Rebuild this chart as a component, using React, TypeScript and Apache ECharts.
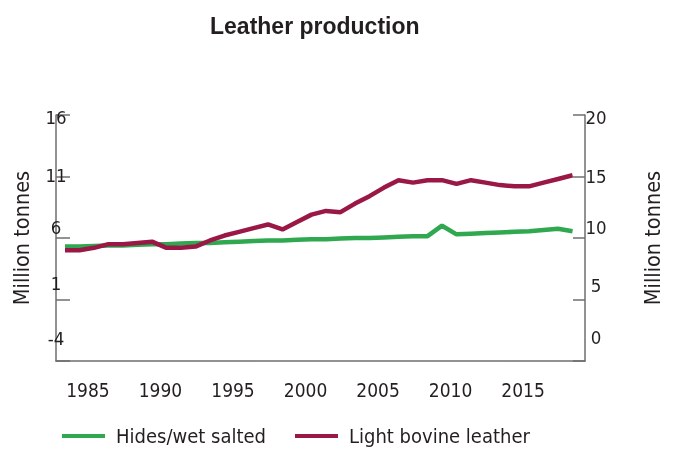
import React, { useEffect, useRef } from "react";
import * as echarts from "echarts";

const years = [
  1983, 1984, 1985, 1986, 1987, 1988, 1989, 1990, 1991, 1992, 1993, 1994,
  1995, 1996, 1997, 1998, 1999, 2000, 2001, 2002, 2003, 2004, 2005, 2006,
  2007, 2008, 2009, 2010, 2011, 2012, 2013, 2014, 2015, 2016, 2017, 2018,
];

// left axis (million tonnes)
const hides = [
  5.3, 5.3, 5.35, 5.4, 5.4, 5.45, 5.5, 5.5, 5.55, 5.6, 5.6, 5.65,
  5.7, 5.75, 5.8, 5.8, 5.85, 5.9, 5.9, 5.95, 6.0, 6.0, 6.05, 6.1,
  6.15, 6.15, 7.0, 6.3, 6.35, 6.4, 6.45, 6.5, 6.55, 6.65, 6.75, 6.55,
];

// right axis (million tonnes)
const leather = [
  9.0, 9.0, 9.2, 9.5, 9.5, 9.6, 9.7, 9.2, 9.2, 9.3, 9.8, 10.2,
  10.5, 10.8, 11.1, 10.7, 11.3, 11.9, 12.2, 12.1, 12.8, 13.4, 14.1, 14.7,
  14.5, 14.7, 14.7, 14.4, 14.7, 14.5, 14.3, 14.2, 14.2, 14.5, 14.8, 15.1,
];

const xTickLabels = [1985, 1990, 1995, 2000, 2005, 2010, 2015];
const leftTicks = [-4, 1, 6, 11, 16];
const rightTicks = [0, 5, 10, 15, 20];

const seriesNames = ["Hides/wet salted", "Light bovine leather"];
const title = "Leather production";
const axisName = "Million tonnes";

const FONT = "'DejaVu Sans Condensed', 'Liberation Sans', sans-serif";
const TEXT = "#231f20";
const AXIS = "#6e6e6e";
const GREEN = "#2fa84f";
const CRIMSON = "#9a1846";

export default function App() {
  const ref = useRef<HTMLDivElement>(null);

  useEffect(() => {
    const chart = echarts.init(ref.current!, null, { renderer: "svg" });

    const leftShift = [46, 32, 22, 2, -4]; // bottom padding (positive) or top padding (negative)
    const rightShift = [48, 28, 22, 0, -4];
    const mkRich = (prefix: string, shifts: number[]) => {
      const r: Record<string, any> = {};
      shifts.forEach((s, i) => {
        r[prefix + i] = {
          fontFamily: FONT,
          fontSize: 18.5,
          color: TEXT,
          padding: s >= 0 ? [0, 0, s, 0] : [-s, 0, 0, 0],
        };
      });
      return r;
    };

    chart.setOption({
      animation: false,
      title: {
        text: title,
        left: 205,
        top: 9,
        textStyle: {
          fontFamily: "'Liberation Sans', sans-serif",
          fontWeight: "bold",
          fontSize: 23,
          color: TEXT,
        },
      },
      legend: {
        data: seriesNames,
        left: 62,
        top: 426,
        padding: 0,
        icon: "rect",
        itemWidth: 43,
        itemHeight: 4,
        itemGap: 29,
        itemStyle: { borderWidth: 0 },
        textStyle: {
          fontFamily: FONT,
          fontSize: 20,
          color: TEXT,
          padding: [0, 0, 0, 6],
        },
      },
      grid: { left: 56, right: 94, top: 115, bottom: 90 },
      xAxis: {
        type: "value",
        min: 1982.38,
        max: 2018.86,
        axisLine: { show: true, onZero: false, lineStyle: { color: AXIS, width: 1.5 } },
        axisTick: { show: false },
        splitLine: { show: false },
        axisLabel: {
          customValues: xTickLabels,
          margin: 19,
          fontFamily: FONT,
          fontSize: 19,
          color: TEXT,
          padding: [0, 12, 0, 0],
          formatter: (v: number) => String(v),
        },
      },
      yAxis: [
        {
          type: "value",
          position: "left",
          min: -4,
          max: 16,
          name: axisName,
          nameLocation: "middle",
          nameRotate: 90,
          nameGap: 24,
          nameTextStyle: { fontFamily: FONT, fontSize: 21.5, color: TEXT },
          axisLine: { show: true, lineStyle: { color: AXIS, width: 1.5 } },
          axisTick: {
            show: true,
            inside: true,
            length: 14,
            customValues: leftTicks,
            lineStyle: { color: AXIS, width: 1.5 },
          },
          splitLine: { show: false },
          axisLabel: {
            customValues: leftTicks,
            align: "center",
            margin: 0,
            formatter: (v: number) => `{l${leftTicks.indexOf(v)}|${v}}`,
            rich: mkRich("l", leftShift),
          },
        },
        {
          type: "value",
          position: "right",
          min: 0,
          max: 20,
          name: axisName,
          nameLocation: "middle",
          nameRotate: 90,
          nameGap: 56,
          nameTextStyle: { fontFamily: FONT, fontSize: 21.5, color: TEXT },
          axisLine: { show: true, lineStyle: { color: AXIS, width: 1.5 } },
          axisTick: {
            show: true,
            inside: true,
            length: 12,
            customValues: rightTicks,
            lineStyle: { color: AXIS, width: 1.5 },
          },
          splitLine: { show: false },
          axisLabel: {
            customValues: rightTicks,
            align: "center",
            margin: 11,
            formatter: (v: number) => `{r${rightTicks.indexOf(v)}|${v}}`,
            rich: mkRich("r", rightShift),
          },
        },
      ],
      series: [
        {
          name: seriesNames[0],
          type: "line",
          yAxisIndex: 0,
          data: years.map((y, i) => [y, hides[i]]),
          showSymbol: false,
          symbol: "none",
          lineStyle: { color: GREEN, width: 4.5 },
          itemStyle: { color: GREEN },
          z: 2,
        },
        {
          name: seriesNames[1],
          type: "line",
          yAxisIndex: 1,
          data: years.map((y, i) => [y, leather[i]]),
          showSymbol: false,
          symbol: "none",
          lineStyle: { color: CRIMSON, width: 4.5 },
          itemStyle: { color: CRIMSON },
          z: 3,
        },
      ],
    });

    return () => chart.dispose();
  }, []);

  return (
    <div
      ref={ref}
      style={{ position: "fixed", left: 0, top: 0, width: 679, height: 451 }}
    />
  );
}
